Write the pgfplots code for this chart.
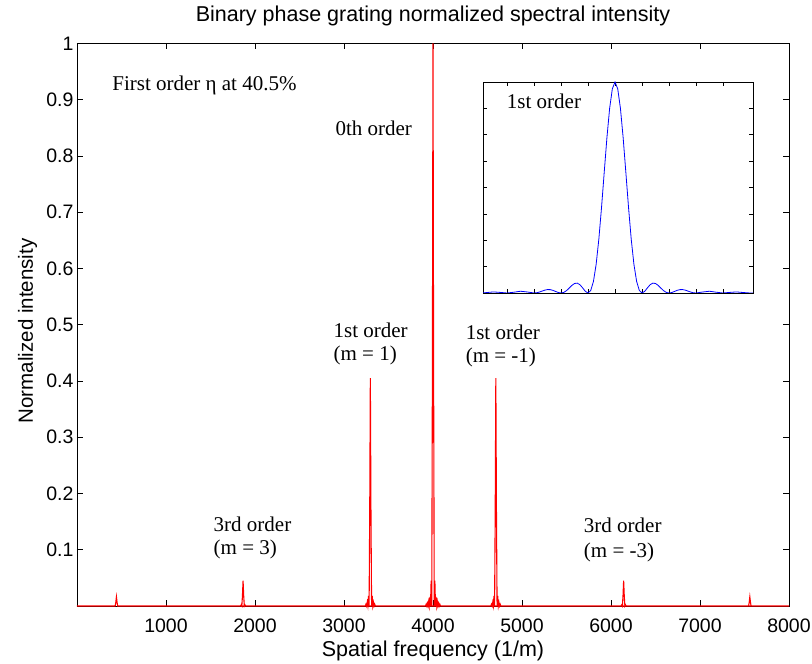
\documentclass[border=0pt]{standalone}
\usepackage{fontspec}
\setmainfont{Liberation Serif}
\newfontfamily\arial{Liberation Sans}
\usepackage{pgfplots}
\pgfplotsset{compat=1.18}
\begin{document}
\begin{tikzpicture}
\begin{axis}[
  name=main,
  scale only axis, width=712pt, height=562.5pt,
  at={(0pt,0pt)}, anchor=south west,
  xmin=0, xmax=8000, ymin=0, ymax=1,
  xtick={1000,2000,...,8000},
  ytick={0.1,0.2,0.3,0.4,0.5,0.6,0.7,0.8,0.9,1},
  yticklabels={0.1,0.2,0.3,0.4,0.5,0.6,0.7,0.8,0.9,1},
  scaled ticks=false,
  /pgf/number format/1000 sep={},
  /pgf/number format/assume math mode=true,
  tick align=inside, major tick length=6pt,
  tick style={black, line width=0.8pt},
  axis line style={line width=0.8pt},
  tick label style={font=\arial\fontsize{19.5}{19.5}\selectfont},
  xticklabel style={anchor=base, yshift=-27pt},
  title={Binary phase grating normalized spectral intensity},
  title style={font=\arial\fontsize{21.5}{21.5}\selectfont, at={(axis description cs:0.5,1)}, anchor=base, yshift=15.5pt},
  xlabel={Spatial frequency (1/m)},
  xlabel style={font=\arial\fontsize{21.5}{21.5}\selectfont, at={(axis description cs:0.5,0)}, anchor=base, yshift=-51pt},
  ylabel={Normalized intensity},
  ylabel style={font=\arial\fontsize{20.5}{20.5}\selectfont, at={(axis description cs:-0.062,0.489)}, anchor=base},
  clip=false,
]
\addplot[red, line width=1.1pt] coordinates {
(0,0) (429,0) (436,0.0066) (443,0.0162) (450,0.0066) (457,0) (8000,0)
};
\addplot[red, line width=1.1pt] coordinates {
(1838,0) (1845,0.002) (1852,0) (1859,0.018) (1866,0.045) (1873,0.018) (1880,0) (1887,0.002) (1894,0)
};
\addplot[red, line width=1.1pt] coordinates {
(3240,0) (3247,0.0032) (3254,0) (3261,0.0065) (3268,0) (3275,0.018) (3282,0) (3289,0.164) (3296,0.405) (3303,0.164) (3310,0) (3317,0.018) (3324,0) (3331,0.0065) (3338,0) (3345,0.0032) (3352,0)
};
\addplot[red, line width=1.1pt] coordinates {
(3916,0) (3923,0.003) (3930,0) (3937,0.005) (3944,0) (3951,0.008) (3958,0) (3965,0.016) (3972,0) (3979,0.045) (3986,0) (3993,0.405) (4000,1.0) (4007,0.405) (4014,0) (4021,0.045) (4028,0) (4035,0.016) (4042,0) (4049,0.008) (4056,0) (4063,0.005) (4070,0) (4077,0.003) (4084,0)
};
\addplot[red, line width=1.1pt] coordinates {
(4650,0) (4657,0.0032) (4664,0) (4671,0.0065) (4678,0) (4685,0.018) (4692,0) (4699,0.164) (4706,0.405) (4713,0.164) (4720,0) (4727,0.018) (4734,0) (4741,0.0065) (4748,0) (4755,0.0032) (4762,0)
};
\addplot[red, line width=1.1pt] coordinates {
(6114,0) (6121,0.002) (6128,0) (6135,0.018) (6142,0.045) (6149,0.018) (6156,0) (6163,0.002) (6170,0)
};
\addplot[red, line width=1.1pt] coordinates {
(7546,0) (7553,0.0066) (7560,0.0162) (7567,0.0066) (7574,0)
};
\begin{scope}[every node/.style={font=\fontsize{21}{23.5}\selectfont, inner sep=0pt}]
\node[anchor=base west] at (axis cs:395,0.916) {First order η at 40.5\%};
\node[anchor=base west] at (axis cs:2903,0.836) {0th order};
\node[anchor=base west] at (axis cs:2881,0.4777) {1st order};
\node[anchor=base west] at (axis cs:2881,0.4373) {(m = 1)};
\node[anchor=base west] at (axis cs:4366,0.474) {1st order};
\node[anchor=base west] at (axis cs:4366,0.4325) {(m = -1)};
\node[anchor=base west] at (axis cs:1534,0.1333) {3rd order};
\node[anchor=base west] at (axis cs:1534,0.0907) {(m = 3)};
\node[anchor=base west] at (axis cs:5694,0.130) {3rd order};
\node[anchor=base west] at (axis cs:5694,0.087) {(m = -3)};
\end{scope}
\end{axis}
\begin{axis}[
  at={(406pt,313pt)}, anchor=south west,
  scale only axis, width=270pt, height=211pt,
  xmin=-4.89, xmax=5.11, ymin=0, ymax=1,
  xtick={-4,-3,-2,-1,0,1,2,3,4},
  ytick={0.125,0.25,0.375,0.5,0.625,0.75,0.875},
  xticklabels={}, yticklabels={},
  tick align=inside, major tick length=4pt,
  tick style={black, line width=0.6pt},
  axis line style={line width=0.8pt},
  axis background/.style={fill=white},
]
\addplot[blue, line width=0.8pt] coordinates {
(-4.89,0.0005) (-4.75,0.0022) (-4.5,0.0050) (-4.25,0.0028) (-4,0) (-3.75,0.0036) (-3.5,0.0083) (-3.25,0.0048) (-3,0)
(-2.9,0.0011) (-2.8,0.0045) (-2.7,0.0091) (-2.6,0.0136) (-2.5,0.0162) (-2.4,0.0159) (-2.3,0.0125) (-2.2,0.0072) (-2.1,0.0022) (-2,0)
(-1.9,0.0027) (-1.8,0.0108) (-1.7,0.0229) (-1.6,0.0358) (-1.5,0.0450) (-1.4,0.0468) (-1.3,0.0392) (-1.2,0.0243) (-1.1,0.0080) (-1,0)
(-0.9,0.0119) (-0.8,0.0547) (-0.7,0.1353) (-0.6,0.2546) (-0.5,0.4053) (-0.4,0.5728) (-0.3,0.7368) (-0.2,0.8751) (-0.1,0.9675) (0,1)
(0.1,0.9675) (0.2,0.8751) (0.3,0.7368) (0.4,0.5728) (0.5,0.4053) (0.6,0.2546) (0.7,0.1353) (0.8,0.0547) (0.9,0.0119) (1,0)
(1.1,0.0080) (1.2,0.0243) (1.3,0.0392) (1.4,0.0468) (1.5,0.0450) (1.6,0.0358) (1.7,0.0229) (1.8,0.0108) (1.9,0.0027) (2,0)
(2.1,0.0022) (2.2,0.0072) (2.3,0.0125) (2.4,0.0159) (2.5,0.0162) (2.6,0.0136) (2.7,0.0091) (2.8,0.0045) (2.9,0.0011) (3,0)
(3.25,0.0048) (3.5,0.0083) (3.75,0.0036) (4,0) (4.25,0.0028) (4.5,0.0050) (4.75,0.0022) (5,0) (5.11,0.0004)
};
\node[anchor=base west, inner sep=0pt, font=\fontsize{21}{23.5}\selectfont] at (axis cs:-4.01,0.875) {1st order};
\end{axis}
\pgfresetboundingbox
\path (-77pt,-58pt) rectangle (735pt,606pt);
\end{tikzpicture}
\end{document}
